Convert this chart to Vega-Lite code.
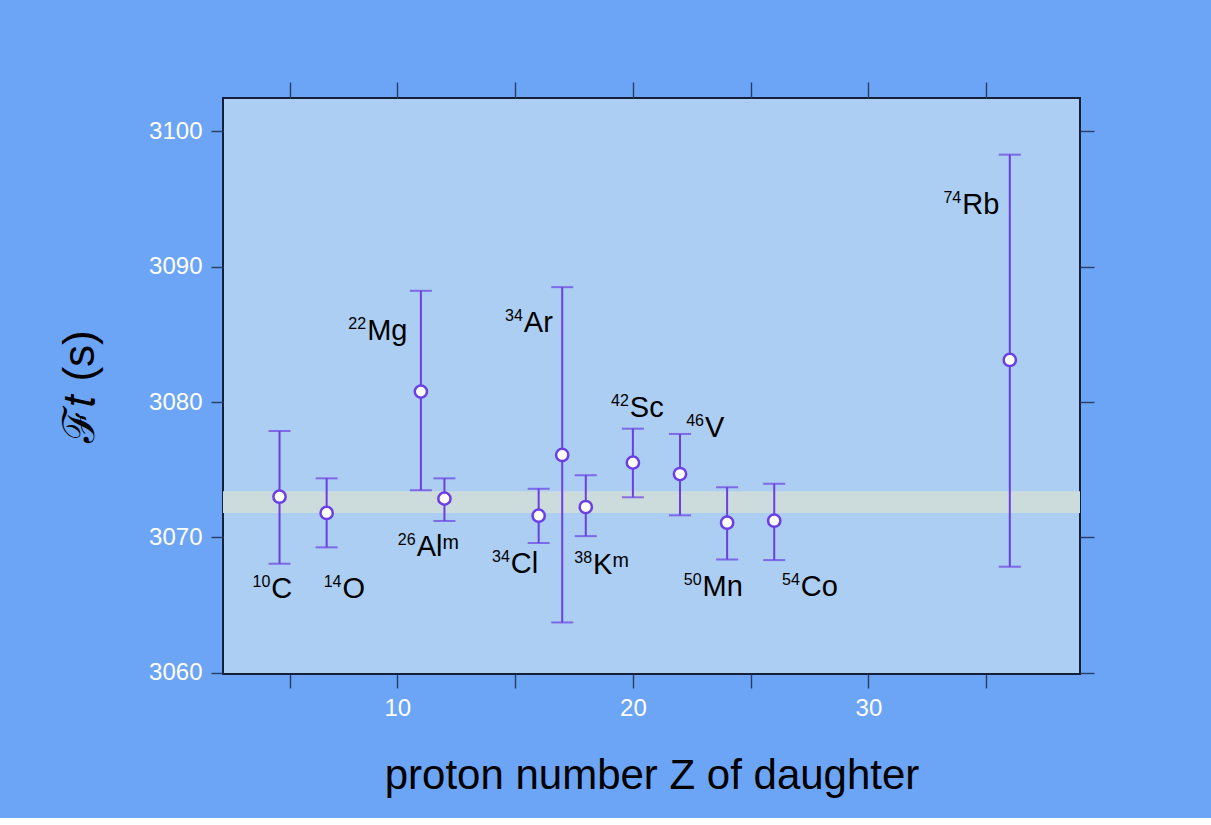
{
  "$schema": "https://vega.github.io/schema/vega-lite/v6.json",
  "width": 857,
  "height": 576,
  "autosize": {"type": "none"},
  "padding": {"left": 223, "top": 98, "right": 131, "bottom": 144},
  "background": "#6ca4f6",
  "view": {"fill": "#abcef2", "stroke": "#152038", "strokeWidth": 2},
  "config": {
    "font": "Liberation Sans",
    "axis": {
      "grid": false,
      "domain": false,
      "tickColor": "#2a3d66",
      "tickWidth": 1.4,
      "labelColor": "#ffffff",
      "labelFont": "Liberation Sans",
      "labelFontSize": 24,
      "titleFont": "Liberation Sans",
      "titleFontWeight": "normal",
      "titleColor": "#000000"
    }
  },
  "datasets": {
    "band": [{"lo": 3071.8, "hi": 3073.41}],
    "nuclei": [
      {"nuc": "C", "A": "10", "Z": 5, "Ft": 3073.0, "lo": 3068.05, "hi": 3077.86, "lz": 4.65, "lf": 3065.51},
      {"nuc": "O", "A": "14", "Z": 7, "Ft": 3071.8, "lo": 3069.26, "hi": 3074.36, "lz": 7.67, "lf": 3065.51},
      {"nuc": "Mg", "A": "22", "Z": 11, "Ft": 3080.77, "lo": 3073.48, "hi": 3088.22, "lz": 8.72, "lf": 3084.59},
      {"nuc": "Alᵐ", "A": "26", "Z": 12, "Ft": 3072.86, "lo": 3071.21, "hi": 3074.36, "lz": 10.82, "lf": 3068.64},
      {"nuc": "Cl", "A": "34", "Z": 16, "Ft": 3071.6, "lo": 3069.58, "hi": 3073.59, "lz": 14.82, "lf": 3067.34},
      {"nuc": "Ar", "A": "34", "Z": 17, "Ft": 3076.09, "lo": 3063.71, "hi": 3088.49, "lz": 15.37, "lf": 3085.21},
      {"nuc": "Kᵐ", "A": "38", "Z": 18, "Ft": 3072.24, "lo": 3070.09, "hi": 3074.59, "lz": 18.31, "lf": 3067.26},
      {"nuc": "Sc", "A": "42", "Z": 20, "Ft": 3075.52, "lo": 3072.96, "hi": 3078.03, "lz": 19.87, "lf": 3078.88},
      {"nuc": "V", "A": "46", "Z": 22, "Ft": 3074.68, "lo": 3071.63, "hi": 3077.64, "lz": 23.06, "lf": 3077.44},
      {"nuc": "Mn", "A": "50", "Z": 24, "Ft": 3071.08, "lo": 3068.37, "hi": 3073.7, "lz": 22.96, "lf": 3065.66},
      {"nuc": "Co", "A": "54", "Z": 26, "Ft": 3071.23, "lo": 3068.32, "hi": 3073.96, "lz": 27.13, "lf": 3065.66},
      {"nuc": "Rb", "A": "74", "Z": 36, "Ft": 3083.11, "lo": 3067.83, "hi": 3098.28, "lz": 33.98, "lf": 3093.89}
    ]
  },
  "resolve": {"axis": {"x": "independent", "y": "independent"}},
  "layer": [
    {
      "data": {"name": "band"},
      "mark": {"type": "rect", "color": "#ccdbdc"},
      "encoding": {
        "y": {"field": "lo", "type": "quantitative", "scale": {"domain": [3059.9, 3102.47], "nice": false, "zero": false}, "axis": null},
        "y2": {"field": "hi"}
      }
    },
    {
      "data": {"name": "nuclei"},
      "mark": {"type": "rule", "color": "#6b3fe3", "strokeWidth": 2},
      "encoding": {
        "x": {
          "field": "Z", "type": "quantitative",
          "scale": {"domain": [2.6, 38.98], "nice": false, "zero": false},
          "axis": {
            "orient": "bottom",
            "values": [5.45, 10, 15, 20, 25, 30, 35],
            "labelExpr": "datum.value % 10 == 0 ? format(datum.value, 'd') : ''",
            "tickSize": 14,
            "labelPadding": 8,
            "title": "proton number Z of daughter",
            "titleFontSize": 42,
            "titlePadding": 35
          }
        },
        "y": {
          "field": "lo", "type": "quantitative",
          "scale": {"domain": [3059.9, 3102.47], "nice": false, "zero": false},
          "axis": {
            "orient": "left",
            "values": [3060, 3070, 3080, 3090, 3100],
            "format": "d",
            "tickSize": 12,
            "labelPadding": 9,
            "title": "ℱ𝑡 (s)",
            "titleFontSize": 44,
            "titlePadding": 46
          }
        },
        "y2": {"field": "hi"}
      }
    },
    {
      "data": {"name": "nuclei"},
      "mark": {"type": "tick", "orient": "horizontal", "color": "#6b3fe3", "size": 22, "thickness": 2},
      "encoding": {
        "x": {"field": "Z", "type": "quantitative", "axis": null},
        "y": {"field": "hi", "type": "quantitative", "axis": null}
      }
    },
    {
      "data": {"name": "nuclei"},
      "mark": {"type": "tick", "orient": "horizontal", "color": "#6b3fe3", "size": 22, "thickness": 2},
      "encoding": {
        "x": {"field": "Z", "type": "quantitative", "axis": null},
        "y": {"field": "lo", "type": "quantitative", "axis": null}
      }
    },
    {
      "data": {"name": "nuclei"},
      "mark": {"type": "point", "shape": "circle", "filled": true, "fill": "#ffffff", "stroke": "#6b3fe3", "strokeWidth": 2.5, "size": 150, "opacity": 1},
      "encoding": {
        "x": {
          "field": "Z", "type": "quantitative",
          "axis": {"orient": "top", "values": [5.45, 10, 15, 20, 25, 30, 35], "labels": false, "tickSize": 16, "title": null}
        },
        "y": {
          "field": "Ft", "type": "quantitative",
          "axis": {"orient": "right", "values": [3060, 3070, 3080, 3090, 3100], "labels": false, "tickSize": 14, "title": null}
        }
      }
    },
    {
      "data": {"name": "nuclei"},
      "mark": {"type": "text", "align": "right", "baseline": "alphabetic", "dy": -11, "dx": -1, "fontSize": 16, "color": "#000000", "font": "Liberation Sans"},
      "encoding": {
        "x": {"field": "lz", "type": "quantitative", "axis": null},
        "y": {"field": "lf", "type": "quantitative", "axis": null},
        "text": {"field": "A"}
      }
    },
    {
      "data": {"name": "nuclei"},
      "mark": {"type": "text", "align": "left", "baseline": "alphabetic", "fontSize": 29, "color": "#000000", "font": "Liberation Sans"},
      "encoding": {
        "x": {"field": "lz", "type": "quantitative", "axis": null},
        "y": {"field": "lf", "type": "quantitative", "axis": null},
        "text": {"field": "nuc"}
      }
    }
  ]
}
